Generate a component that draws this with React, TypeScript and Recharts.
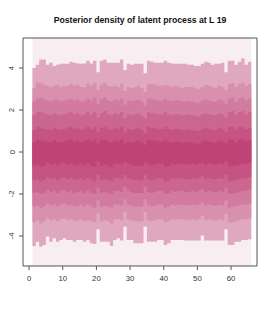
import React from 'react';
import { ComposedChart, Area, XAxis, YAxis, ReferenceArea } from 'recharts';

// one value per column (columns 1..65), quantile edges of the posterior
const q1Hi = [4.0, 4.15, 4.4, 4.4, 4.15, 4.25, 4.1, 4.15, 4.2, 4.2, 4.2, 4.3, 4.25, 4.22, 4.2, 4.22, 4.35, 4.22, 4.35, 3.8, 4.35, 4.4, 4.25, 4.25, 4.25, 4.25, 4.4, 3.9, 4.2, 4.15, 4.2, 4.2, 4.2, 3.75, 4.35, 4.3, 4.25, 4.25, 4.25, 4.35, 4.25, 4.22, 4.2, 4.2, 4.2, 4.2, 4.15, 4.15, 4.1, 4.1, 4.2, 4.3, 4.25, 4.15, 4.2, 4.2, 4.25, 3.8, 4.35, 4.35, 4.15, 4.3, 4.45, 4.15, 4.3];
const q1Lo = [-4.48, -4.27, -4.51, -4.43, -4.03, -4.27, -4.11, -4.27, -4.19, -4.11, -4.19, -4.19, -4.27, -4.19, -4.19, -4.27, -4.19, -4.35, -4.38, -3.68, -4.27, -4.27, -4.27, -4.48, -4.19, -4.11, -4.22, -3.56, -4.19, -4.19, -4.35, -4.35, -4.35, -3.55, -4.27, -4.27, -4.27, -4.19, -4.19, -4.43, -4.35, -4.19, -4.19, -4.19, -4.19, -4.22, -4.22, -4.22, -4.22, -4.22, -3.98, -4.22, -4.22, -4.22, -4.22, -4.22, -4.22, -3.68, -4.43, -4.43, -4.27, -4.27, -4.19, -4.19, -4.15];
const q2Hi = [3.05, 3.3, 3.3, 3.2, 3.15, 3.1, 3.15, 3.2, 3.1, 3.15, 3.15, 3.25, 3.15, 3.2, 3.1, 3.1, 3.25, 3.15, 3.3, 2.95, 3.2, 3.3, 3.15, 3.1, 3.15, 3.1, 3.25, 2.9, 3.1, 3.05, 3.1, 3.15, 3.05, 2.85, 3.25, 3.25, 3.2, 3.15, 3.15, 3.2, 3.15, 3.1, 3.15, 3.1, 3.05, 3.1, 3.1, 3.1, 3.05, 3.0, 3.1, 3.2, 3.15, 3.1, 3.05, 3.15, 3.1, 2.95, 3.25, 3.3, 3.1, 3.25, 3.3, 3.15, 3.25];
const q2Lo = [-3.35, -3.25, -3.4, -3.3, -3.15, -3.25, -3.2, -3.3, -3.2, -3.15, -3.25, -3.2, -3.3, -3.25, -3.2, -3.3, -3.25, -3.3, -3.35, -2.9, -3.3, -3.25, -3.3, -3.4, -3.2, -3.2, -3.25, -2.85, -3.2, -3.25, -3.3, -3.3, -3.3, -2.85, -3.25, -3.3, -3.25, -3.2, -3.2, -3.35, -3.3, -3.2, -3.25, -3.2, -3.2, -3.25, -3.25, -3.2, -3.25, -3.2, -3.05, -3.25, -3.2, -3.25, -3.25, -3.2, -3.25, -2.95, -3.35, -3.35, -3.3, -3.25, -3.2, -3.2, -3.15];
const q3Hi = [2.4, 2.55, 2.6, 2.5, 2.45, 2.4, 2.5, 2.5, 2.4, 2.45, 2.5, 2.55, 2.45, 2.5, 2.4, 2.45, 2.55, 2.45, 2.6, 2.3, 2.5, 2.6, 2.45, 2.4, 2.5, 2.45, 2.55, 2.25, 2.45, 2.4, 2.45, 2.5, 2.4, 2.2, 2.55, 2.5, 2.5, 2.45, 2.45, 2.55, 2.45, 2.4, 2.45, 2.45, 2.4, 2.4, 2.45, 2.4, 2.35, 2.35, 2.45, 2.5, 2.45, 2.4, 2.4, 2.5, 2.45, 2.3, 2.55, 2.6, 2.4, 2.55, 2.6, 2.45, 2.55];
const q3Lo = [-2.6, -2.55, -2.65, -2.6, -2.45, -2.55, -2.5, -2.6, -2.5, -2.45, -2.55, -2.5, -2.6, -2.55, -2.5, -2.6, -2.5, -2.6, -2.65, -2.3, -2.6, -2.55, -2.6, -2.65, -2.5, -2.5, -2.55, -2.25, -2.5, -2.55, -2.6, -2.6, -2.6, -2.25, -2.55, -2.6, -2.55, -2.5, -2.5, -2.65, -2.6, -2.5, -2.55, -2.5, -2.5, -2.55, -2.55, -2.5, -2.55, -2.5, -2.4, -2.55, -2.5, -2.55, -2.55, -2.5, -2.55, -2.3, -2.65, -2.6, -2.6, -2.55, -2.5, -2.5, -2.45];
const q4Hi = [1.75, 1.9, 1.9, 1.85, 1.8, 1.75, 1.85, 1.8, 1.75, 1.8, 1.85, 1.9, 1.8, 1.85, 1.75, 1.8, 1.9, 1.8, 1.9, 1.65, 1.85, 1.95, 1.8, 1.75, 1.85, 1.8, 1.9, 1.6, 1.8, 1.75, 1.8, 1.85, 1.75, 1.6, 1.9, 1.85, 1.85, 1.8, 1.8, 1.9, 1.8, 1.75, 1.8, 1.8, 1.75, 1.75, 1.8, 1.75, 1.7, 1.7, 1.8, 1.85, 1.8, 1.75, 1.75, 1.85, 1.8, 1.65, 1.9, 1.95, 1.75, 1.9, 1.95, 1.8, 1.9];
const q4Lo = [-1.95, -1.9, -2.0, -1.95, -1.8, -1.9, -1.85, -1.95, -1.85, -1.8, -1.9, -1.85, -1.95, -1.9, -1.85, -1.95, -1.85, -1.95, -2.0, -1.7, -1.95, -1.9, -1.95, -2.0, -1.85, -1.85, -1.9, -1.65, -1.85, -1.9, -1.95, -1.95, -1.95, -1.65, -1.9, -1.95, -1.9, -1.85, -1.85, -2.0, -1.95, -1.85, -1.9, -1.85, -1.85, -1.9, -1.9, -1.85, -1.9, -1.85, -1.75, -1.9, -1.85, -1.9, -1.9, -1.85, -1.9, -1.7, -2.0, -1.95, -1.95, -1.9, -1.85, -1.85, -1.8];
const q5Hi = [1.05, 1.2, 1.15, 1.1, 1.1, 1.05, 1.15, 1.1, 1.05, 1.1, 1.15, 1.2, 1.1, 1.15, 1.05, 1.1, 1.2, 1.1, 1.2, 0.95, 1.15, 1.2, 1.1, 1.05, 1.15, 1.1, 1.2, 0.95, 1.1, 1.05, 1.1, 1.15, 1.05, 0.9, 1.2, 1.15, 1.15, 1.1, 1.1, 1.2, 1.1, 1.05, 1.1, 1.1, 1.05, 1.05, 1.1, 1.05, 1.0, 1.0, 1.1, 1.15, 1.1, 1.05, 1.05, 1.15, 1.1, 0.95, 1.2, 1.2, 1.05, 1.2, 1.2, 1.1, 1.15];
const q5Lo = [-1.35, -1.3, -1.4, -1.35, -1.2, -1.3, -1.25, -1.35, -1.25, -1.2, -1.3, -1.25, -1.35, -1.3, -1.25, -1.35, -1.25, -1.35, -1.4, -1.1, -1.35, -1.3, -1.35, -1.4, -1.25, -1.25, -1.3, -1.1, -1.25, -1.3, -1.35, -1.35, -1.35, -1.1, -1.3, -1.35, -1.3, -1.25, -1.25, -1.4, -1.35, -1.25, -1.3, -1.25, -1.25, -1.3, -1.3, -1.25, -1.3, -1.25, -1.15, -1.3, -1.25, -1.3, -1.3, -1.25, -1.3, -1.1, -1.4, -1.35, -1.35, -1.3, -1.25, -1.25, -1.2];
const q6Hi = [0.45, 0.6, 0.55, 0.5, 0.5, 0.45, 0.55, 0.5, 0.45, 0.5, 0.55, 0.6, 0.5, 0.55, 0.45, 0.5, 0.6, 0.5, 0.6, 0.4, 0.55, 0.6, 0.5, 0.45, 0.55, 0.5, 0.6, 0.4, 0.5, 0.45, 0.5, 0.55, 0.45, 0.35, 0.6, 0.55, 0.55, 0.5, 0.5, 0.6, 0.5, 0.45, 0.5, 0.5, 0.45, 0.45, 0.5, 0.45, 0.4, 0.4, 0.5, 0.55, 0.5, 0.45, 0.45, 0.55, 0.5, 0.4, 0.6, 0.6, 0.45, 0.6, 0.6, 0.5, 0.55];
const q6Lo = [-0.65, -0.6, -0.7, -0.65, -0.5, -0.6, -0.55, -0.65, -0.55, -0.5, -0.6, -0.55, -0.65, -0.6, -0.55, -0.65, -0.55, -0.65, -0.7, -0.45, -0.65, -0.6, -0.65, -0.7, -0.55, -0.55, -0.6, -0.45, -0.55, -0.6, -0.65, -0.65, -0.65, -0.45, -0.6, -0.65, -0.6, -0.55, -0.55, -0.7, -0.65, -0.55, -0.6, -0.55, -0.55, -0.6, -0.6, -0.55, -0.6, -0.55, -0.5, -0.6, -0.55, -0.6, -0.6, -0.55, -0.6, -0.45, -0.7, -0.65, -0.65, -0.6, -0.55, -0.55, -0.5];

const xTicks = [0, 10, 20, 30, 40, 50, 60];
const yTicks = [-4, -2, 0, 2, 4];

const bands = [
  { lo: q1Lo, hi: q1Hi, color: '#dfa8be' },
  { lo: q2Lo, hi: q2Hi, color: '#d890ad' },
  { lo: q3Lo, hi: q3Hi, color: '#d27b9e' },
  { lo: q4Lo, hi: q4Hi, color: '#cb678f' },
  { lo: q5Lo, hi: q5Hi, color: '#c55482' },
  { lo: q6Lo, hi: q6Hi, color: '#bf4374' },
];

// step areas: point x holds column x until x+1; last point repeats column 65
const data = Array.from({ length: q1Hi.length + 1 }, (_, i) => {
  const c = Math.min(i, q1Hi.length - 1);
  const row: any = { x: i + 1 };
  bands.forEach((b, j) => {
    row['b' + j] = [b.lo[c], b.hi[c]];
  });
  return row;
});

const X_DOMAIN = [-1.8, 67.7];
const Y_DOMAIN = [-5.43, 5.43];

const YTick = (props: any) => {
  const { x, y, payload } = props;
  const cx = x - 5;
  return (
    <text
      x={cx}
      y={y}
      transform={`rotate(-90, ${cx}, ${y})`}
      textAnchor="middle"
      dominantBaseline="central"
      fill="#333"
      fontSize={7.7}
    >
      {payload.value}
    </text>
  );
};

export default function App() {
  return (
    <div
      style={{
        position: 'fixed',
        left: 0,
        top: 0,
        width: 275,
        height: 314,
        background: '#fff',
        fontFamily: '"Liberation Sans", Arial, sans-serif',
      }}
    >
      <div
        style={{
          position: 'absolute',
          left: 0,
          width: 280,
          top: 14,
          lineHeight: '12px',
          textAlign: 'center',
          fontWeight: 'bold',
          fontSize: 8.7,
          color: '#111',
        }}
      >
        Posterior density of latent process at L 19
      </div>
      <ComposedChart
        width={275}
        height={314}
        data={data}
        margin={{ top: 38, right: 18, bottom: 18, left: 0 }}
      >
        <XAxis
          dataKey="x"
          type="number"
          domain={X_DOMAIN}
          ticks={xTicks}
          allowDataOverflow
          axisLine={false}
          tickLine={{ stroke: '#555' }}
          tickSize={4}
          tickMargin={6}
          height={30}
          tick={{ fill: '#333', fontSize: 7.7 }}
        />
        <YAxis
          type="number"
          domain={Y_DOMAIN}
          ticks={yTicks}
          allowDataOverflow
          axisLine={false}
          tickLine={{ stroke: '#555' }}
          tickSize={4}
          width={23}
          tick={<YTick />}
        />
        <ReferenceArea x1={1} x2={66} y1={Y_DOMAIN[0]} y2={Y_DOMAIN[1]} fill="#f8edf1" fillOpacity={1} stroke="none" />
        {bands.map((b, j) => (
          <Area
            key={j}
            type="stepAfter"
            dataKey={'b' + j}
            fill={b.color}
            fillOpacity={1}
            stroke="none"
            dot={false}
            activeDot={false}
            isAnimationActive={false}
          />
        ))}
        <ReferenceArea
          x1={X_DOMAIN[0]}
          x2={X_DOMAIN[1]}
          y1={Y_DOMAIN[0]}
          y2={Y_DOMAIN[1]}
          fill="none"
          stroke="#555"
          strokeWidth={1}
        />
      </ComposedChart>
    </div>
  );
}
